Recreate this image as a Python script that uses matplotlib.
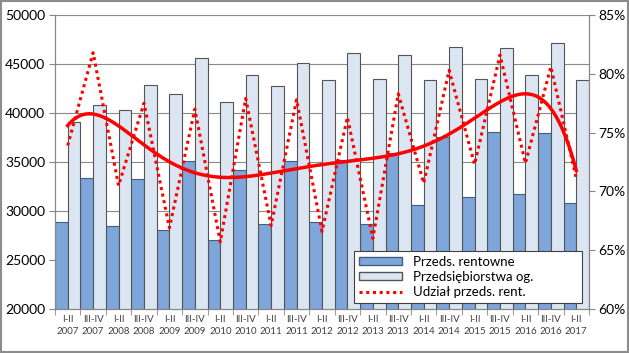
import matplotlib.pyplot as plt
import numpy as np
from matplotlib.patches import Patch, Rectangle
from matplotlib.lines import Line2D

plt.rcParams['font.family'] = ['Lato', 'DejaVu Sans']

# data
periods = ['I-II', 'III-IV'] * 10 + ['I-II']
years = [str(y) for y in range(2007, 2017) for _ in range(2)] + ['2017']
rentowne = [28850, 33400, 28430, 33220, 28060, 35090, 27040, 34220, 28670, 35090,
            28880, 35160, 28670, 35950, 30640, 37530, 31430, 38110, 31730, 37980, 30820]
ogolem = [39050, 40820, 40310, 42890, 41940, 45600, 41130, 43900, 42720, 45090,
          43360, 46100, 43460, 45900, 43360, 46710, 43460, 46680, 43840, 47150, 43360]
udzial = [73.9, 81.8, 70.5, 77.5, 66.9, 77.0, 65.7, 77.9, 67.1, 77.8,
          66.6, 76.3, 66.0, 78.3, 70.7, 80.3, 72.3, 81.6, 72.4, 80.6, 71.1]

dark_c = '#7EA6DA'
light_c = '#DCE6F2'
red_c = '#FF0000'

x = np.arange(len(periods))
labels = [f'{p}\n{y}' for p, y in zip(periods, years)]

fig = plt.figure(figsize=(6.29, 3.53), dpi=100)
ax = fig.add_axes([0.0874, 0.1246, 0.8490, 0.8329])

ax.bar(x - 0.25, rentowne, width=0.5, color=dark_c, edgecolor='#3f5f86', linewidth=0.8, zorder=2)
ax.bar(x + 0.25, ogolem, width=0.5, color=light_c, edgecolor='#555555', linewidth=0.8, zorder=2)

ax.set_ylim(20000, 50000)
ax.set_yticks(range(20000, 50001, 5000))
ax.set_xlim(-0.5, len(x) - 0.5)
ax.set_xticks(x)
ax.set_xticklabels(labels, fontsize=7, color='#404040', linespacing=1.5)
ax.set_xticks(np.arange(-0.5, len(x), 1.0), minor=True)
ax.tick_params(axis='x', which='major', length=0, pad=4)
ax.tick_params(axis='x', which='minor', length=4, color='#868686')
ax.tick_params(axis='y', labelsize=10, length=4, color='#868686', pad=3)
ax.grid(axis='y', color='#8a8a8a', linewidth=0.8, zorder=0)
ax.set_axisbelow(True)
for s in ['top']:
    ax.spines[s].set_visible(False)
for s in ['left', 'right', 'bottom']:
    ax.spines[s].set_color('#868686')

ax2 = ax.twinx()
ax2.plot(x, udzial, color=red_c, linestyle=(0, (1, 1.2)), linewidth=2.2, zorder=3)

# polynomial trendline of the share
coef = np.polyfit(x, udzial, 6)
xs = np.linspace(0, len(x) - 1, 300)
ax2.plot(xs, np.polyval(coef, xs), color=red_c, linewidth=2.5, zorder=4)

ax2.set_ylim(60, 85)
ax2.set_yticks(range(60, 86, 5))
ax2.set_yticklabels([f'{v}%' for v in range(60, 86, 5)])
ax2.tick_params(axis='y', labelsize=10, length=4, color='#868686', pad=3)
ax2.spines['top'].set_visible(False)
for s in ['left', 'right', 'bottom']:
    ax2.spines[s].set_color('#868686')

handles = [Patch(facecolor=dark_c, edgecolor='#3f5f86'),
           Patch(facecolor=light_c, edgecolor='#555555'),
           Line2D([0], [0], color=red_c, linestyle=(0, (1, 1.2)), linewidth=2.2)]
leg = ax2.legend(handles, ['Przeds. rentowne', 'Przedsiębiorstwa og.', 'Udział przeds. rent.'],
                 loc='lower left', bbox_to_anchor=(0.56, 0.021, 0.427, 0.196), mode='expand',
                 fontsize=9.5, fancybox=False, framealpha=1, edgecolor='#404040',
                 handlelength=3.3, handleheight=0.6, borderaxespad=0, labelspacing=0.25,
                 borderpad=0.35)
leg.get_frame().set_linewidth(0.8)

fig.patches.append(Rectangle((0.002, 0.003), 0.996, 0.994, transform=fig.transFigure,
                             fill=False, edgecolor='#8c8c8c', linewidth=1.5))

fig.savefig('out.png', dpi=100)
